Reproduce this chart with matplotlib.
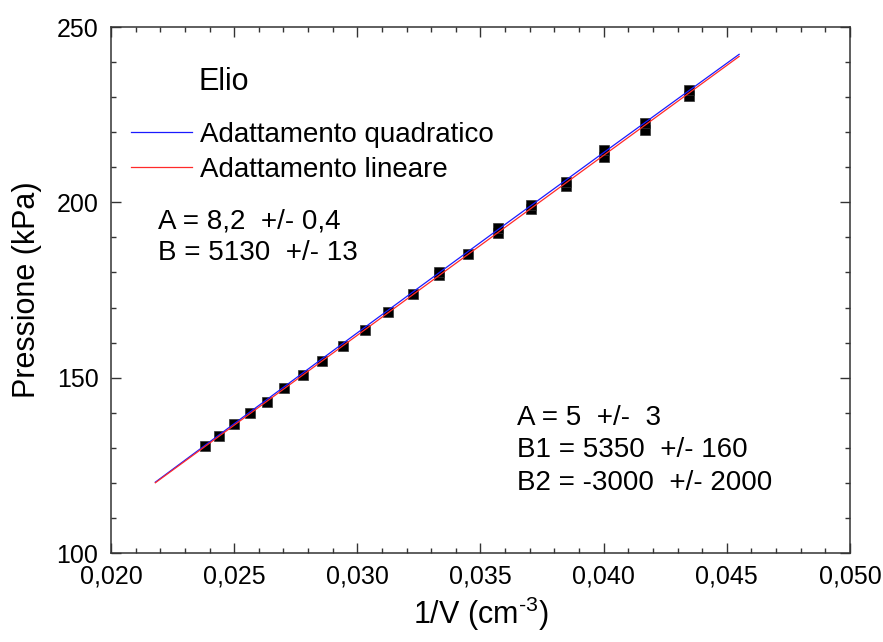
import numpy as np
import matplotlib
matplotlib.use("Agg")
import matplotlib.pyplot as plt
from matplotlib.ticker import MultipleLocator, FuncFormatter

plt.rcParams["font.family"] = ["Liberation Sans", "DejaVu Sans"]
plt.rcParams["mathtext.fontset"] = "custom"
plt.rcParams["mathtext.rm"] = "Liberation Sans"
plt.rcParams["mathtext.default"] = "regular"

# volumi (cm^3) e pressioni misurate (kPa)
volume = [42, 41, 40, 39, 38, 37, 36, 35, 34, 33, 32, 31, 30, 29, 28, 27, 26, 25, 24, 23]
pressione = [130.5, 133.4, 136.7, 139.8, 143.1, 147.1, 150.9, 154.8, 159.0, 163.7,
             168.7, 174.0, 179.3, 185.3, 191.2, 198.0, 204.7, 212.9, 220.7, 230.4]

# misure ripetute sugli ultimi punti
volume_rip = [30, 28, 27, 26, 25, 24, 23]
pressione_rip = [180.2, 192.8, 199.2, 205.9, 214.8, 222.6, 232.0]

# parametri dei fit
lin_A, lin_B = 8.2, 5130
quad_A, quad_B1, quad_B2 = 5, 5350, -3000
fit_range = (0.0218, 0.0455)

inv_v = 1.0 / np.array(volume)
inv_v_rip = 1.0 / np.array(volume_rip)
xs = np.linspace(fit_range[0], fit_range[1], 200)

fig = plt.figure(figsize=(8.83, 6.42), dpi=100)
ax = fig.add_axes([0.1257, 0.1386, 0.8369, 0.8193])

ax.plot(xs, quad_A + quad_B1 * xs + quad_B2 * xs ** 2, color="#1a1aff", lw=0.9,
        label="Adattamento quadratico", zorder=3)
ax.plot(xs, lin_A + lin_B * xs, color="#ff2a2a", lw=0.9,
        label="Adattamento lineare", zorder=4)
ax.plot(inv_v, pressione, "s", color="black", ms=7.5, mec="#333333", mew=0.5, zorder=2)
ax.plot(inv_v_rip, pressione_rip, "s", color="black", ms=7.5, mec="#333333", mew=0.5, zorder=2)

ax.set_xlim(0.020, 0.050)
ax.set_ylim(100, 250)
ax.xaxis.set_major_locator(MultipleLocator(0.005))
ax.xaxis.set_minor_locator(MultipleLocator(0.001))
ax.yaxis.set_major_locator(MultipleLocator(50))
ax.yaxis.set_minor_locator(MultipleLocator(10))
ax.xaxis.set_major_formatter(FuncFormatter(lambda v, p: f"{v:.3f}".replace(".", ",")))

ax.tick_params(which="both", direction="in", top=True, right=True, width=1.0,
               labelsize=18, colors="#333333", labelcolor="black")
ax.tick_params(which="major", length=7)
ax.tick_params(which="minor", length=3.5)
ax.tick_params(axis="y", pad=9)
ax.tick_params(axis="x", pad=8)
for s in ax.spines.values():
    s.set_linewidth(1.1)
    s.set_color("#333333")

ax.set_ylabel("Pressione (kPa)", fontsize=22)
ax.set_xlabel("1/V (cm$^{\\text{-}3}$)", fontsize=22)
ax.yaxis.set_label_coords(-0.094, 0.5)
ax.xaxis.set_label_coords(0.5, -0.080)

ax.text(0.118, 0.895, "Elio", transform=ax.transAxes, fontsize=22, va="center")
ax.legend(loc="upper left", bbox_to_anchor=(0.0275, 0.82), frameon=False,
          fontsize=20, handlelength=2.2, handletextpad=0.28, labelspacing=0.32,
          borderpad=0, borderaxespad=0)

ax.text(0.064, 0.631, "A = 8,2  +/- 0,4", transform=ax.transAxes, fontsize=20, va="center")
ax.text(0.064, 0.571, "B = 5130  +/- 13", transform=ax.transAxes, fontsize=20, va="center")

ax.text(0.550, 0.256, "A = 5  +/-  3", transform=ax.transAxes, fontsize=20, va="center")
ax.text(0.550, 0.195, "B1 = 5350  +/- 160", transform=ax.transAxes, fontsize=20, va="center")
ax.text(0.550, 0.133, "B2 = -3000  +/- 2000", transform=ax.transAxes, fontsize=20, va="center")

fig.savefig("out.png", dpi=100)
